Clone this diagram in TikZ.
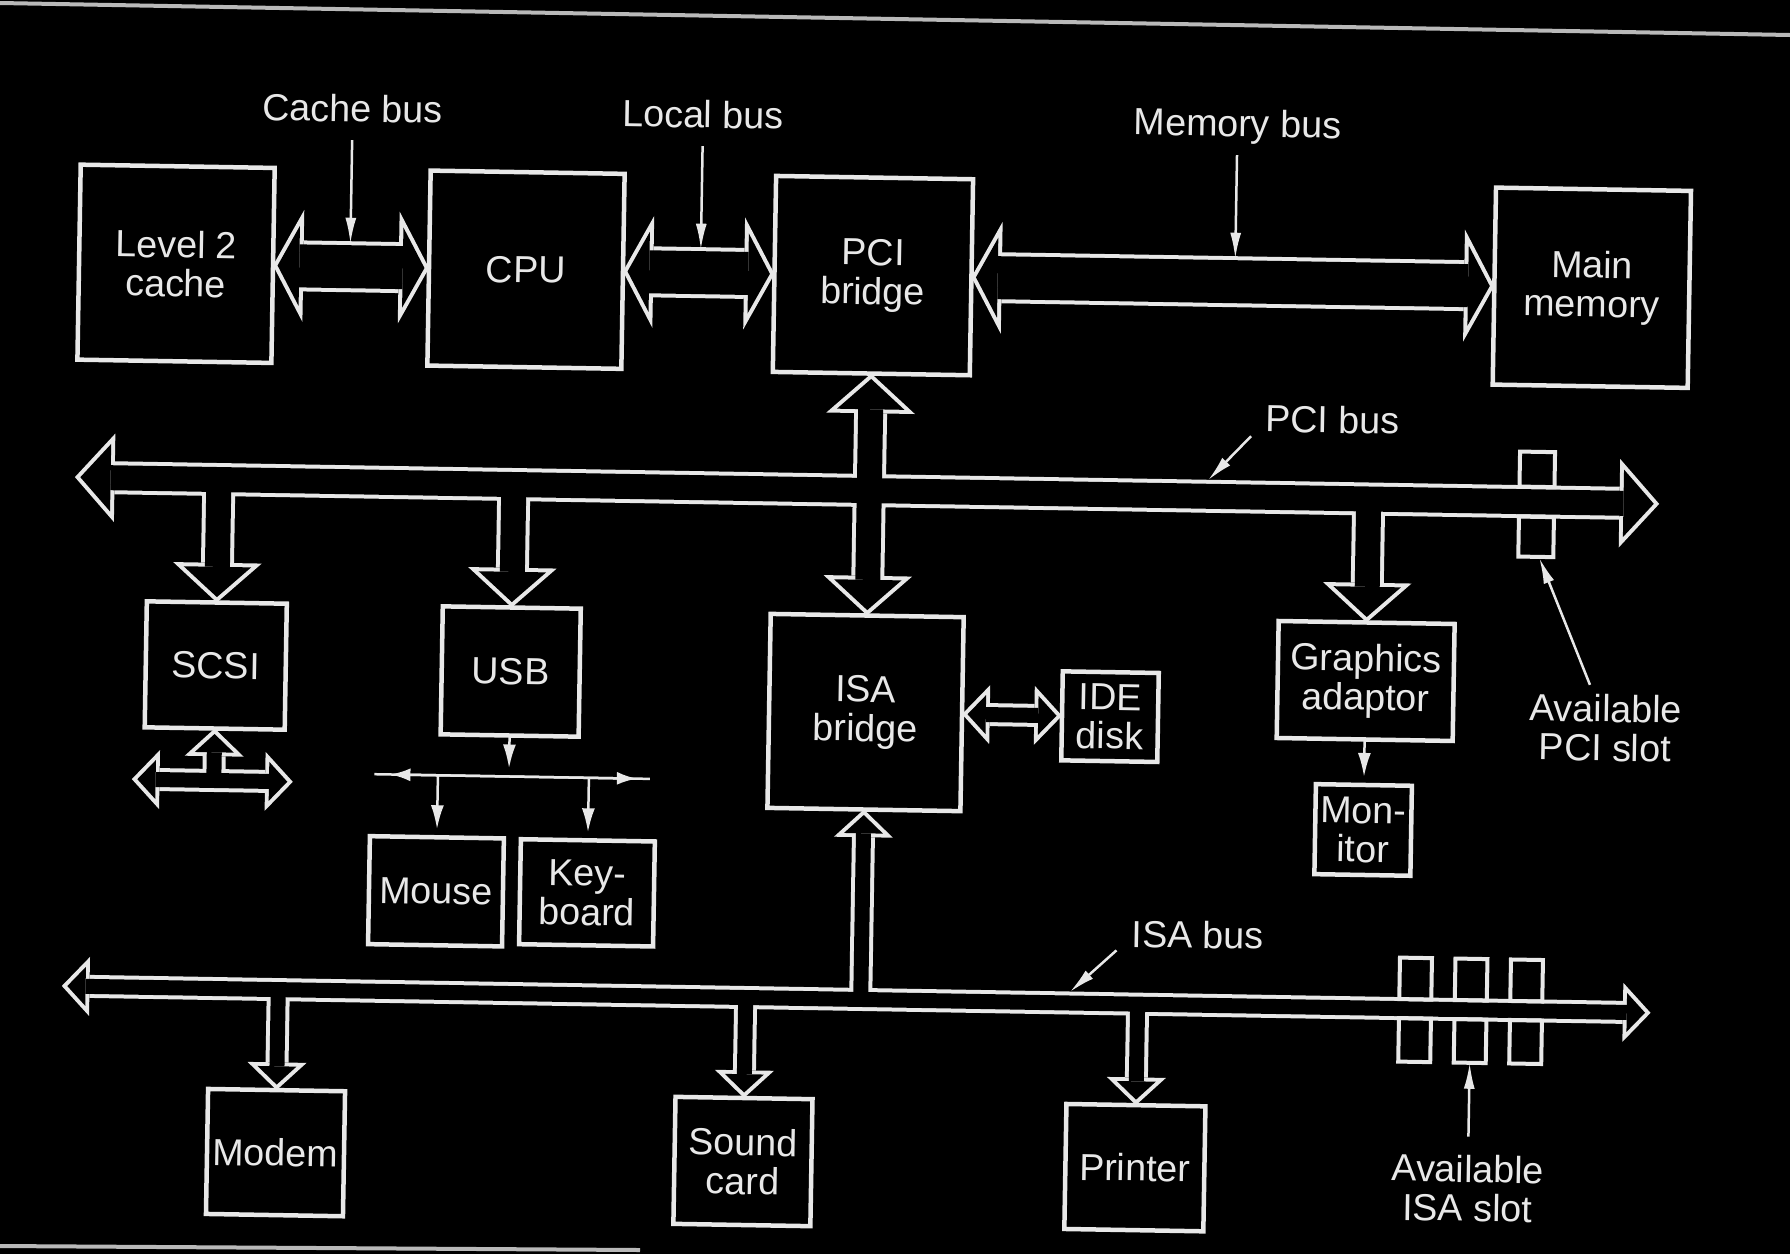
\documentclass[tikz,border=0pt]{standalone}
\usepackage{fontspec}
\setmainfont{Liberation Sans}
\usepackage{tikz}
\usetikzlibrary{arrows.meta}
\definecolor{ink}{RGB}{232, 232, 232}
\definecolor{scanedge}{RGB}{185, 185, 185}
\newcommand{\dfont}{\fontsize{37.7}{39}\selectfont}
\tikzset{every picture/.style={line width=0.75pt}}
\tikzset{
  box/.style={draw=ink, line width=4.5pt, inner sep=0pt, outer sep=0pt, align=center, text=ink, font=\dfont},
  lbl/.style={text=ink, inner sep=0pt, text height=28pt, text depth=8pt, font=\dfont},
  lbltwo/.style={text=ink, inner sep=0pt, align=center, font=\dfont},
  ptr/.style={draw=ink, line width=2.5pt, -{Latex[length=26pt,width=11pt]}},
  thinarr/.style={draw=ink, line width=2.5pt, shorten >=8pt, -{Latex[length=24pt,width=13pt]}},
  thinline/.style={draw=ink, line width=2.5pt},
  slot/.style={draw=ink, line width=4pt},
  BigO/.tip={Triangle[length=30.3pt, width=111.9pt, line width=0pt]},
  BigI/.tip={Triangle[length=21.7pt, width=80.1pt, line width=0pt]},
  PciO/.tip={Triangle[length=39.7pt, width=88.5pt, line width=0pt]},
  PciI/.tip={Triangle[length=30.3pt, width=67.5pt, line width=0pt]},
  IsaO/.tip={Triangle[length=27.7pt, width=59pt, line width=0pt]},
  IsaI/.tip={Triangle[length=18.3pt, width=39pt, line width=0pt]},
  bigO/.style={draw=ink, line width=51pt},
  bigI/.style={draw=black, line width=43pt, shorten >=4.55pt, shorten <=4.55pt},
  pciO/.style={draw=ink, line width=33pt},
  pciI/.style={draw=black, line width=25pt, shorten >=5.4pt, shorten <=5.4pt},
  isaO/.style={draw=ink, line width=23pt},
  isaI/.style={draw=black, line width=15pt, shorten >=5.5pt, shorten <=5.5pt},
}
% O = outline pass, I = inside pass
\newcommand{\buses}[1]{%
  \draw[big#1, Big#1-Big#1] (l2) -- (cpu);
  \draw[big#1, Big#1-Big#1] (cpu) -- (pcib);
  \draw[big#1, Big#1-Big#1] (pcib) -- (mainmem);
  \draw[pci#1, Pci#1-Pci#1] (pciW) -- (pciE);
  \draw[pci#1, Pci#1-Pci#1] (pcib) -- (isab);
  \draw[pci#1, -Pci#1] (scsij) -- (scsi);
  \draw[pci#1, -Pci#1] (usbj) -- (usb);
  \draw[pci#1, -Pci#1] (gfxj) -- (gfx);
  \draw[isa#1, Isa#1-Isa#1] (isaW) -- (isaE);
  \draw[isa#1, -Isa#1] (isaj) -- (isab);
  \draw[isa#1, -Isa#1] (modemj) -- (modem);
  \draw[isa#1, -Isa#1] (soundj) -- (sound);
  \draw[isa#1, -Isa#1] (printj) -- (printer);
  \draw[isa#1, Isa#1-Isa#1] (isab) -- (ide);
  \draw[isa#1, Isa#1-Isa#1] (scsiW) -- (scsiE);
  \draw[isa#1, -Isa#1] (scsiTj) -- (scsi);
}

\begin{document}
\begin{tikzpicture}[x=1pt,y=-1pt]
\useasboundingbox (0,0) rectangle (1790,1254);
\fill[black] (0,0) rectangle (1790,1254);
%Straight Lines
\draw[scanedge, line width=4pt] (0,3) -- (1790,35);
\draw[scanedge, line width=4pt] (0,1246) -- (640,1250);

\begin{scope}[rotate around={-0.97:(895,627)}, transform shape]
%Shape: Rectangle
\node[box, minimum width=194pt, minimum height=195pt] (l2) at (170,276) {Level 2\\cache};
\node[box, minimum width=194pt, minimum height=195pt] (cpu) at (520,276) {CPU};
\node[box, minimum width=197pt, minimum height=196pt] (pcib) at (867,276) {PCI\\bridge};
\node[box, minimum width=195pt, minimum height=197pt] (mainmem) at (1586,276) {Main\\memory};
\node[box, minimum width=140pt, minimum height=126pt] (scsi) at (216.5,677) {SCSI};
\node[box, minimum width=138pt, minimum height=128pt] (usb) at (511.5,678) {USB};
\node[box, minimum width=193pt, minimum height=194pt] (isab) at (867,713) {ISA\\bridge};
\node[box, minimum width=96pt, minimum height=89pt] (ide) at (1111.5,713) {IDE\\disk};
\node[box, minimum width=176pt, minimum height=117pt] (gfx) at (1366.5,673) {Graphics\\adaptor};
\node[box, minimum width=96pt, minimum height=90pt] (mon) at (1366.5,822) {Mon-\\itor};
\node[box, minimum width=134pt, minimum height=108pt] (mouse) at (440.5,899) {Mouse};
\node[box, minimum width=134pt, minimum height=105pt] (kbd) at (591.5,898) {Key-\\board};
\node[box, minimum width=137pt, minimum height=125pt] (modem) at (284.5,1163) {Modem};
\node[box, minimum width=137pt, minimum height=127pt] (sound) at (752,1164) {Sound\\card};
\node[box, minimum width=139pt, minimum height=125pt] (printer) at (1144,1163.5) {Printer};

\coordinate (pciW) at (72.5,491);
\coordinate (pciE) at (1657,491);
\coordinate (scsij) at (216.5,491);
\coordinate (usbj) at (511.5,491);
\coordinate (gfxj) at (1366.5,491);
\coordinate (isaW) at (68,1000);
\coordinate (isaE) at (1657,1000);
\coordinate (isaj) at (867,1000);
\coordinate (modemj) at (284.5,1000);
\coordinate (soundj) at (752,1000);
\coordinate (printj) at (1144,1000);
\coordinate (scsiW) at (134.5,792);
\coordinate (scsiE) at (295.5,792);
\coordinate (scsiTj) at (216.5,792);

%Shape: Block Arrows
\buses{O}
\buses{I}

%Shape: Rectangle
\draw[slot] (1517,441) rectangle (1552,476);
\draw[slot] (1517,506) rectangle (1552,546);
\foreach \sx in {1421.5,1477,1532.5} {
  \draw[slot] (\sx-16,949) rectangle (\sx+16,990.5);
  \draw[slot] (\sx-16,1009.5) rectangle (\sx+16,1053);
}

%Straight Lines
\coordinate (usbW) at (377,783);
\coordinate (usbE) at (652.5,783);
\coordinate (usbl) at (511.5,783);
\coordinate (mousej) at (440.5,783);
\coordinate (kbdj) at (591.5,783);
\draw[thinarr] (usb) -- (usbl);
\draw[thinline] (usbW) -- (usbE);
\draw[thinline, {Latex[length=20pt,width=13pt]}-{Latex[length=20pt,width=13pt]}, shorten <=16pt, shorten >=13pt] (usbW) -- (usbE);
\draw[thinarr] (mousej) -- (mouse);
\draw[thinarr] (kbdj) -- (kbd);
\draw[thinarr] (gfx) -- (mon);

% Text Node
\node[lbl] (cachelbl) at (344,121) {Cache bus};
\node[lbl] (locallbl) at (694.5,121) {Local bus};
\node[lbl] (memlbl) at (1229,121) {Memory bus};
\node[lbl] (pcilbl) at (1329,415.6) {PCI bus};
\node[lbl] (isalbl) at (1203,933) {ISA bus};
\node[lbltwo] (pcislotlbl) at (1607,716) {Available\\PCI slot};
\node[lbltwo] (isaslotlbl) at (1477,1178.5) {Available\\ISA slot};

%Straight Lines
\coordinate (cachept) at (344,253);
\coordinate (localpt) at (694.5,253);
\coordinate (mempt) at (1229,253);
\coordinate (pcipt) at (1205.5,475);
\coordinate (isapt) at (1076,989);
\coordinate (pcislotpt) at (1538,547);
\coordinate (isaslotpt) at (1477,1053);
\draw[ptr, shorten <=10pt] (cachelbl) -- (cachept);
\draw[ptr, shorten <=10pt] (locallbl) -- (localpt);
\draw[ptr, shorten <=10pt] (memlbl) -- (mempt);
\draw[ptr, shorten <=20pt] (pcilbl.west) -- (pcipt);
\draw[ptr, shorten <=20pt] (isalbl.west) -- (isapt);
\draw[ptr, shorten <=10pt] (pcislotlbl.110) -- (pcislotpt);
\draw[ptr, shorten <=18pt] (isaslotlbl) -- (isaslotpt);
\end{scope}
\end{tikzpicture}
\end{document}
